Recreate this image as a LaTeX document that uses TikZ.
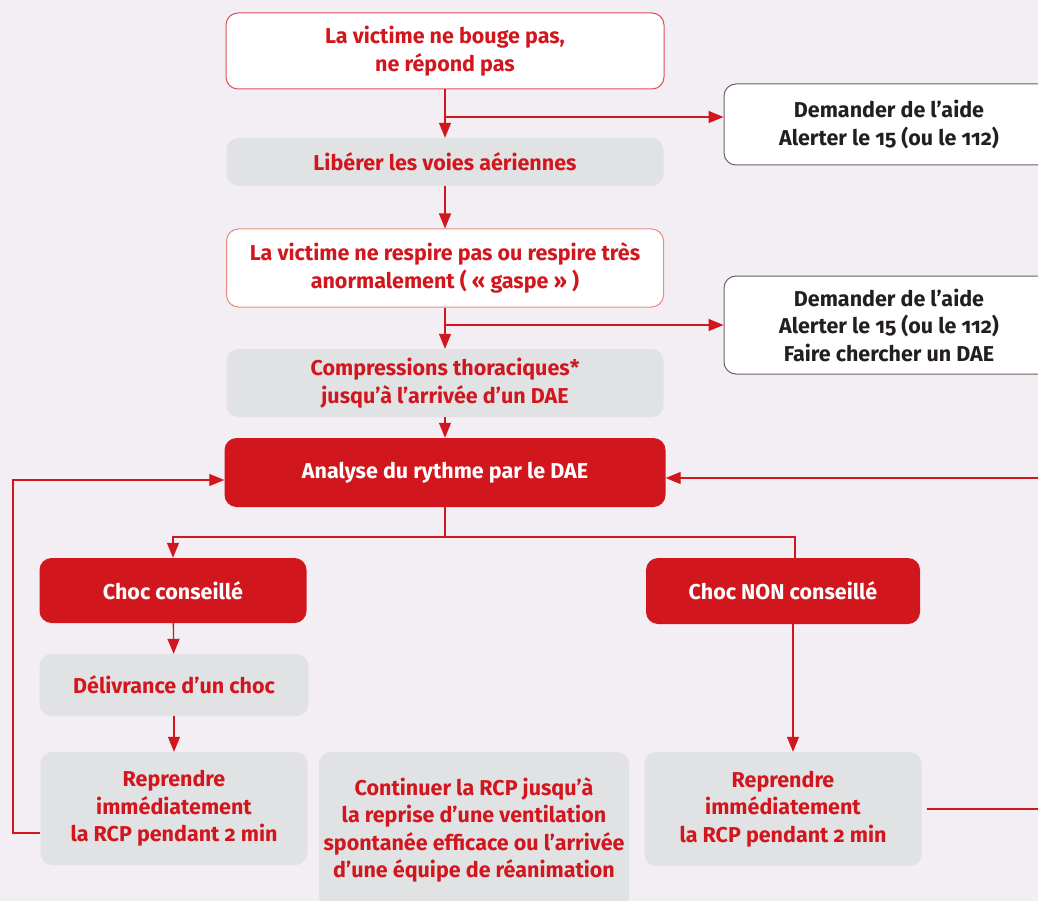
\documentclass[tikz,border=0pt]{standalone}
\usepackage{fontspec}
\setmainfont{Fira Sans}[Numbers=OldStyle]
\usetikzlibrary{arrows.meta}

\definecolor{fond}{RGB}{242,238,244}
\definecolor{rouge}{RGB}{210,22,30}
\definecolor{gris}{RGB}{225,226,228}
\definecolor{encre}{RGB}{35,31,32}
\definecolor{bordrouge}{RGB}{220,80,90}
\definecolor{bordsaumon}{RGB}{232,140,125}

\tikzset{
  base/.style={rectangle, rounded corners=12pt, align=center, inner sep=2pt,
    font=\fontsize{21.5}{27.5}\selectfont\bfseries},
  blanc/.style={base, fill=white, draw=bordrouge, line width=1pt, text=rouge},
  grisbox/.style={base, fill=gris, text=rouge},
  rougebox/.style={base, fill=rouge, text=white},
  aide/.style={base, fill=white, draw=encre!70, line width=1pt, text=encre},
  fleche/.style={draw=rouge, line width=1.3pt, -{Triangle[length=15pt,width=12pt]}},
  trait/.style={draw=rouge, line width=1.3pt}
}

\begin{document}
\begin{tikzpicture}[x=1pt, y=-1pt]
    \useasboundingbox (0,0) rectangle (1038,901);
    \clip (0,0) rectangle (1038,901);
    \fill[fond] (0,0) rectangle (1038,901);

    % Colonne centrale
    \node[blanc, minimum width=438, minimum height=76] (bouge) at (445,51)
        {La victime ne bouge pas,\\ne répond pas};
    \node[grisbox, minimum width=437, minimum height=48] (voies) at (445,162)
        {Libérer les voies aériennes};
    \node[blanc, draw=bordsaumon, minimum width=437, minimum height=78] (respire) at (445,268)
        {La victime ne respire pas ou respire très\\anormalement ( « gaspe » )};
    \node[grisbox, minimum width=437, minimum height=68] (compr) at (445,383)
        {Compressions thoraciques*\\jusqu’à l’arrivée d’un DAE};
    \node[rougebox, minimum width=441, minimum height=69] (analyse) at (445,472.5)
        {Analyse du rythme par le DAE};

    % Appels
    \node[aide, minimum width=330, minimum height=81] (alerte) at (889,124.5)
        {Demander de l’aide\\Alerter le 15 (ou le 112)};
    \node[aide, minimum width=330, minimum height=98] (alertedae) at (889,325)
        {Demander de l’aide\\Alerter le 15 (ou le 112)\\Faire chercher un DAE};

    % Branches du choc
    \node[rougebox, minimum width=267, minimum height=65] (choc) at (173,590.5)
        {Choc conseillé};
    \node[rougebox, minimum width=274, minimum height=66] (chocnon) at (783,591)
        {Choc NON conseillé};
    \node[grisbox, minimum width=269, minimum height=62] (deliv) at (174,685)
        {Délivrance d’un choc};
    \node[grisbox, minimum width=267, minimum height=113] (reprg) at (174,808.5)
        {Reprendre\\immédiatement\\la RCP pendant 2 min};
    \node[grisbox, minimum width=310, minimum height=156] (continuer) at (474,830)
        {Continuer la RCP jusqu’à\\la reprise d’une ventilation\\spontanée efficace ou l’arrivée\\d’une équipe de réanimation};
    \node[grisbox, minimum width=277, minimum height=114] (reprd) at (783,809)
        {Reprendre\\immédiatement\\la RCP pendant 2 min};

    % Connexions
    \coordinate (b1) at (445,117);
    \coordinate (b2) at (445,325);
    \coordinate (split) at (445,537);
    \draw[fleche] (bouge) -- (voies);
    \draw[fleche] (b1) -- (b1 -| alerte.west);
    \draw[fleche] (voies) -- (respire);
    \draw[fleche] (respire) -- (compr);
    \draw[fleche] (b2) -- (b2 -| alertedae.west);
    \draw[fleche] (compr) -- (analyse);
    \draw[trait] (analyse.south) -- (split);
    \draw[fleche] (split) -| (choc.north);
    \draw[trait] (split) -| ([xshift=12pt]chocnon.north);
    \draw[fleche] ([xshift=10pt]chocnon.south) -- ([xshift=10pt]reprd.north);
    \draw[fleche] (choc) -- (deliv);
    \draw[fleche] (deliv) -- (reprg);

    % Boucles de retour
    \coordinate (gauche) at (13,833);
    \coordinate (droite) at (1060,809);
    \draw[fleche] ([yshift=-24.5pt]reprg.west) -- (gauche) |- ([yshift=-7.5pt]analyse.west);
    \draw[fleche] ([xshift=5pt]reprd.east) -- (droite) |- ([yshift=-5.5pt]analyse.east);
\end{tikzpicture}
\end{document}
